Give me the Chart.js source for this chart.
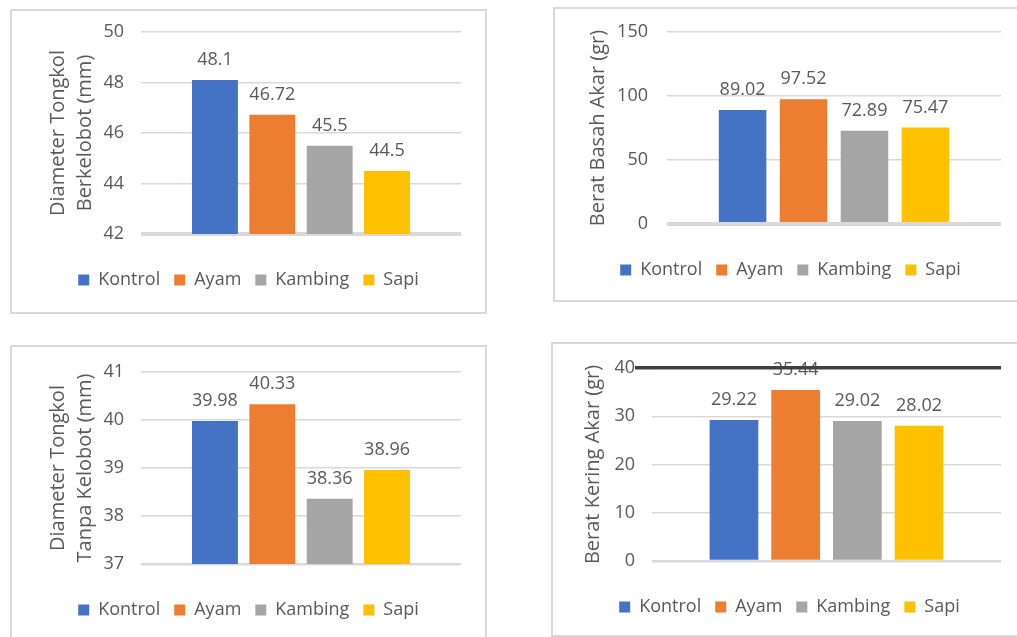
<!DOCTYPE html>
<html>
<head>
<meta charset="utf-8">
<script src="https://cdn.jsdelivr.net/npm/chart.js@4.4.1/dist/chart.umd.min.js"></script>
<style>
  body { margin: 0; width: 1017px; height: 637px; background: #fff; position: relative; overflow: hidden; }
  .panel { position: absolute; border: 2px solid #d9d9d9; background: #fff; }
  .panel canvas { display: block; }
</style>
</head>
<body>
<div class="panel" style="left:10px;top:9px;"><canvas id="diameterBerkelobot" width="473" height="301"></canvas></div>
<div class="panel" style="left:553px;top:7px;"><canvas id="beratBasah" width="471" height="291"></canvas></div>
<div class="panel" style="left:10px;top:345px;"><canvas id="diameterTanpaKelobot" width="473" height="296"></canvas></div>
<div class="panel" style="left:551px;top:342px;"><canvas id="beratKering" width="473" height="291"></canvas></div>
<script>
// Perlakuan pupuk kandang
const seriesNames = ["Kontrol", "Ayam", "Kambing", "Sapi"];
const seriesColors = ["#4472C4", "#ED7D31", "#A5A5A5", "#FFC000"];

// Hasil pengamatan per perlakuan
const diameterBerkelobot = [48.1, 46.72, 45.5, 44.5];
const diameterBerkelobotTicks = [42, 44, 46, 48, 50];
const beratBasahAkar = [89.02, 97.52, 72.89, 75.47];
const beratBasahAkarTicks = [0, 50, 100, 150];
const diameterTanpaKelobot = [39.98, 40.33, 38.36, 38.96];
const diameterTanpaKelobotTicks = [37, 38, 39, 40, 41];
const beratKeringAkar = [29.22, 35.44, 29.02, 28.02];
const beratKeringAkarTicks = [0, 10, 20, 30, 40];

const textColor = "#595959";
const gridColor = "#d9d9d9";
const ruleColor = "#404040";
const fontFamily = '"Open Sans", sans-serif';

// angka di atas tiap batang (digambar sebelum grid supaya garis atas menimpa teks)
const valueLabels = {
  id: "valueLabels",
  beforeDraw(chart) {
    const ctx = chart.ctx;
    ctx.save();
    ctx.font = "18px " + fontFamily;
    ctx.fillStyle = textColor;
    ctx.textAlign = "center";
    ctx.textBaseline = "middle";
    chart.data.datasets.forEach((ds, i) => {
      chart.getDatasetMeta(i).data.forEach((bar, j) => {
        ctx.fillText(String(ds.data[j]), bar.x, bar.y - 20);
      });
    });
    ctx.restore();
  }
};

function drawPanel(id, values, ticks, title, f) {
  const lo = ticks[0];
  const hi = ticks[ticks.length - 1];
  const isRule = c => !!(f.topRule && c.tick && c.tick.value === hi);
  new Chart(document.getElementById(id), {
    type: "bar",
    data: {
      labels: [""],
      datasets: seriesNames.map((name, i) => ({
        label: name,
        data: [values[i]],
        backgroundColor: seriesColors[i],
        borderWidth: 0,
        barPercentage: f.barPct,
        categoryPercentage: f.catPct
      }))
    },
    options: {
      responsive: false,
      animation: false,
      devicePixelRatio: 1,
      layout: { padding: { top: f.top, right: 0, bottom: f.bottom, left: 0 } },
      scales: {
        x: {
          ticks: { display: false },
          grid: { display: false },
          border: { display: false },
          afterFit: s => { s.height = f.gapX; }
        },
        y: {
          min: lo,
          max: hi,
          ticks: {
            stepSize: ticks[1] - ticks[0],
            padding: 0,
            color: textColor,
            font: { family: fontFamily, size: 18 }
          },
          grid: {
            color: c => isRule(c) ? ruleColor : gridColor,
            lineWidth: c => {
              if (!c.tick) return 1.5;
              if (isRule(c)) return 3.5;
              return c.tick.value === lo ? f.baseWidth : 1.5;
            },
            // the tick mark is only the gap before the labels, except for the dark top rule
            drawTicks: true,
            tickLength: f.tickGap,
            tickColor: c => isRule(c) ? ruleColor : "rgba(0,0,0,0)",
            tickWidth: 3.5
          },
          border: { display: false },
          title: {
            display: true,
            text: title,
            color: textColor,
            font: { family: fontFamily, size: 20, lineHeight: "27px" },
            padding: { top: f.titlePad, bottom: 0 }
          },
          afterFit: s => { s.width = f.left; }
        },
        edge: {
          type: "linear",
          position: "right",
          ticks: { display: false },
          grid: { display: false },
          border: { display: false },
          afterFit: s => { s.width = f.right; }
        }
      },
      plugins: {
        legend: {
          position: "bottom",
          labels: {
            boxWidth: 11,
            boxHeight: 11,
            padding: 14,
            color: textColor,
            font: { family: fontFamily, size: 18 }
          }
        },
        tooltip: { enabled: false }
      }
    },
    plugins: [valueLabels]
  });
}

drawPanel("diameterBerkelobot", diameterBerkelobot, diameterBerkelobotTicks,
  ["Diameter Tongkol", "Berkelobot (mm)"],
  { left: 129, top: 21, right: 24, bottom: 13, gapX: 23, titlePad: 32.5, tickGap: 17, catPct: 0.717, barPct: 0.8, baseWidth: 4 });

drawPanel("beratBasah", beratBasahAkar, beratBasahAkarTicks,
  "Berat Basah Akar (gr)",
  { left: 112, top: 23, right: 25, bottom: 11, gapX: 23, titlePad: 29.5, tickGap: 19, catPct: 0.73, barPct: 0.78, baseWidth: 4 });

drawPanel("diameterTanpaKelobot", diameterTanpaKelobot, diameterTanpaKelobotTicks,
  ["Diameter Tongkol", "Tanpa Kelobot (mm)"],
  { left: 129, top: 25, right: 24, bottom: 14, gapX: 23, titlePad: 32.5, tickGap: 17, catPct: 0.717, barPct: 0.8, baseWidth: 2.5 });

drawPanel("beratKering", beratKeringAkar, beratKeringAkarTicks,
  "Berat Kering Akar (gr)",
  { left: 99, top: 24, right: 25, bottom: 9, gapX: 23, titlePad: 26.5, tickGap: 17, catPct: 0.707, barPct: 0.79, baseWidth: 2.5, topRule: true });
</script>
</body>
</html>
